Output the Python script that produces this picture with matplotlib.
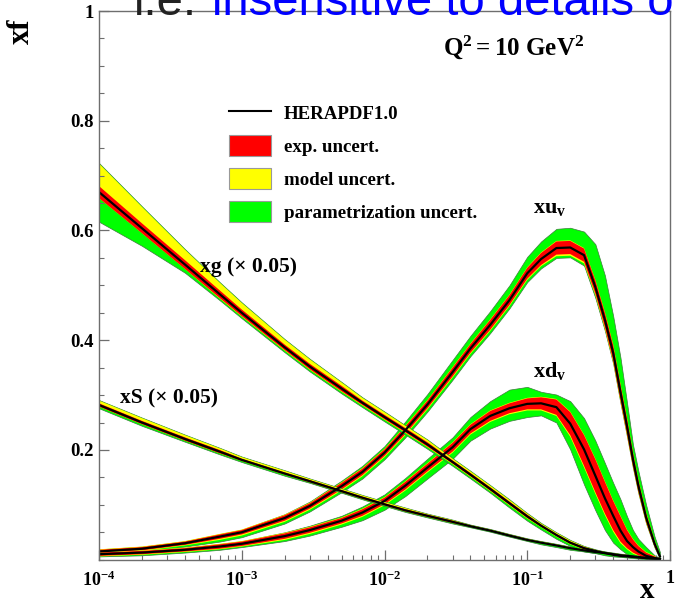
import numpy as np
import matplotlib
matplotlib.use('Agg')
import matplotlib.pyplot as plt
from matplotlib.lines import Line2D
from matplotlib.patches import Patch
from matplotlib.ticker import LogLocator, NullFormatter, MultipleLocator

# ---------------- data ----------------
x = [1e-4, 2e-4, 4e-4, 7e-4, 1e-3, 2e-3, 3e-3, 5e-3, 7e-3, 0.01, 0.014, 0.02, 0.03, 0.04,
     0.055, 0.075, 0.1, 0.125, 0.16, 0.2, 0.25, 0.3, 0.35, 0.4, 0.45, 0.5, 0.55, 0.6,
     0.68, 0.78, 0.85]

# x u_v
xuv_cen = [0.015, 0.020, 0.030, 0.042, 0.050, 0.076, 0.098, 0.134, 0.160, 0.195, 0.236,
           0.283, 0.342, 0.385, 0.428, 0.473, 0.522, 0.548, 0.568, 0.569, 0.555, 0.497,
           0.437, 0.377, 0.305, 0.243, 0.183, 0.135, 0.077, 0.029, 0.006]
xuv_exp = [0.003, 0.003, 0.003, 0.004, 0.004, 0.005, 0.005, 0.006, 0.006, 0.006, 0.007,
           0.007, 0.008, 0.008, 0.009, 0.009, 0.010, 0.011, 0.012, 0.012, 0.012, 0.012,
           0.013, 0.014, 0.014, 0.014, 0.012, 0.010, 0.008, 0.005, 0.002]
xuv_mod_up = [0.001] * 30 + [0.000]
xuv_mod_dn = [0.001, 0.001, 0.001, 0.002, 0.002, 0.002, 0.002, 0.002, 0.002, 0.002, 0.002,
              0.002, 0.002, 0.002, 0.002, 0.002, 0.002, 0.002, 0.003, 0.003, 0.003, 0.003,
              0.003, 0.003, 0.003, 0.003, 0.002, 0.002, 0.002, 0.001, 0.001]
xuv_par_up = [0.000, 0.000, 0.000, 0.000, 0.000, 0.001, 0.002, 0.003, 0.004, 0.005, 0.008,
              0.011, 0.013, 0.014, 0.015, 0.017, 0.019, 0.020, 0.022, 0.023, 0.030, 0.065,
              0.067, 0.052, 0.048, 0.028, 0.014, 0.016, 0.014, 0.007, 0.006]
xuv_par_dn = [0.002, 0.002, 0.002, 0.003, 0.003, 0.003, 0.003, 0.003, 0.004, 0.004, 0.004,
              0.004, 0.004, 0.004, 0.004, 0.004, 0.004, 0.004, 0.003, 0.003, 0.004, 0.005,
              0.004, 0.003, 0.003, 0.002, 0.002, 0.002, 0.001, 0.001, 0.001]

# x d_v
xdv_cen = [0.010, 0.013, 0.018, 0.024, 0.029, 0.043, 0.054, 0.071, 0.086, 0.107, 0.135,
           0.168, 0.205, 0.238, 0.262, 0.276, 0.284, 0.285, 0.278, 0.248, 0.201, 0.153,
           0.112, 0.080, 0.053, 0.034, 0.023, 0.015, 0.007, 0.003, 0.001]
xdv_exp_up = [0.003, 0.003, 0.003, 0.004, 0.004, 0.005, 0.005, 0.005, 0.006, 0.006, 0.007,
              0.007, 0.008, 0.008, 0.009, 0.009, 0.010, 0.011, 0.014, 0.021, 0.026, 0.030,
              0.030, 0.027, 0.026, 0.020, 0.014, 0.010, 0.006, 0.003, 0.001]
xdv_exp_dn = [0.003, 0.003, 0.003, 0.004, 0.004, 0.005, 0.005, 0.005, 0.006, 0.006, 0.007,
              0.007, 0.008, 0.008, 0.009, 0.009, 0.010, 0.011, 0.014, 0.021, 0.030, 0.030,
              0.028, 0.026, 0.020, 0.013, 0.010, 0.007, 0.004, 0.002, 0.001]
xdv_mod_up = [0.001] * 30 + [0.000]
xdv_mod_dn = [0.001, 0.001, 0.001, 0.001, 0.001, 0.002, 0.002, 0.002, 0.002, 0.002, 0.002,
              0.002, 0.002, 0.002, 0.002, 0.002, 0.002, 0.002, 0.002, 0.003, 0.003, 0.003,
              0.003, 0.003, 0.003, 0.002, 0.002, 0.001, 0.001, 0.000, 0.000]
xdv_par_up = [0.001, 0.000, 0.000, 0.000, 0.000, 0.001, 0.002, 0.003, 0.004, 0.005, 0.006,
              0.008, 0.009, 0.013, 0.017, 0.024, 0.020, 0.009, 0.008, 0.019, 0.030, 0.033,
              0.033, 0.032, 0.030, 0.024, 0.016, 0.012, 0.009, 0.001, 0.001]
xdv_par_dn = [0.000, 0.001, 0.001, 0.001, 0.001, 0.002, 0.003, 0.004, 0.006, 0.008, 0.010,
              0.011, 0.011, 0.011, 0.012, 0.012, 0.012, 0.009, 0.012, 0.023, 0.031, 0.030,
              0.027, 0.020, 0.011, 0.009, 0.005, 0.003, 0.000, 0.000, 0.000]

# x S (x 0.05)
xs_cen = [0.282, 0.250, 0.220, 0.197, 0.182, 0.157, 0.143, 0.125, 0.113, 0.101, 0.090,
          0.080, 0.069, 0.061, 0.053, 0.044, 0.036, 0.031, 0.026, 0.021, 0.017, 0.014,
          0.012, 0.010, 0.008, 0.007, 0.006, 0.005, 0.003, 0.002, 0.001]
xs_exp = [0.003, 0.003, 0.003, 0.003, 0.002, 0.002, 0.002, 0.002, 0.002, 0.002, 0.002,
          0.002, 0.002, 0.001, 0.001, 0.001, 0.001, 0.001, 0.001, 0.001, 0.001, 0.001,
          0.001, 0.001, 0.001, 0.001, 0.001, 0.001, 0.001, 0.000, 0.000]
xs_mod_up = [0.005, 0.005, 0.004, 0.003, 0.003, 0.003, 0.002, 0.002, 0.002, 0.002, 0.002,
             0.001, 0.001, 0.001, 0.001, 0.001, 0.001, 0.001, 0.001, 0.001, 0.001, 0.001,
             0.001, 0.001, 0.001, 0.001, 0.000, 0.000, 0.000, 0.000, 0.000]
xs_mod_dn = [0.000] * 31
xs_par_up = [0.001] * 26 + [0.000] * 5
xs_par_dn = [0.003, 0.003, 0.002, 0.002, 0.002, 0.002, 0.001, 0.001, 0.001, 0.001, 0.001,
             0.001, 0.001, 0.001, 0.001, 0.001, 0.001, 0.002, 0.002, 0.002, 0.001, 0.001,
             0.001, 0.001, 0.001, 0.001, 0.000, 0.000, 0.000, 0.000, 0.000]

# x g (x 0.05)
xg_cen = [0.670, 0.604, 0.538, 0.484, 0.450, 0.387, 0.352, 0.312, 0.286, 0.260, 0.236,
          0.210, 0.178, 0.155, 0.129, 0.103, 0.079, 0.062, 0.045, 0.031, 0.021, 0.016,
          0.012, 0.009, 0.007, 0.006, 0.005, 0.004, 0.003, 0.002, 0.001]
xg_exp = [0.011, 0.009, 0.008, 0.007, 0.006, 0.005, 0.005, 0.005, 0.004, 0.004, 0.004,
          0.004, 0.003, 0.003, 0.003, 0.003, 0.003, 0.002, 0.002, 0.002, 0.002, 0.001,
          0.001, 0.001, 0.001, 0.001, 0.001, 0.001, 0.001, 0.001, 0.000]
xg_mod_up = [0.041, 0.030, 0.019, 0.014, 0.012, 0.009, 0.008, 0.006, 0.005, 0.005, 0.004,
             0.004, 0.003, 0.003, 0.003, 0.003, 0.002, 0.002, 0.002, 0.002, 0.001, 0.001,
             0.001, 0.001, 0.001, 0.001, 0.000, 0.000, 0.000, 0.000, 0.000]
xg_mod_dn = [0.000, 0.000, 0.000, 0.001, 0.001, 0.001, 0.001, 0.001, 0.001, 0.001, 0.001,
             0.001, 0.001, 0.001, 0.001, 0.001, 0.001, 0.001, 0.001, 0.001, 0.001, 0.001,
             0.001, 0.000, 0.000, 0.000, 0.000, 0.000, 0.000, 0.000, 0.000]
xg_par_up = [0.001] * 26 + [0.000] * 5
xg_par_dn = [0.043, 0.023, 0.007, 0.003, 0.003, 0.003, 0.003, 0.003, 0.003, 0.003, 0.003,
             0.003, 0.003, 0.003, 0.003, 0.004, 0.004, 0.004, 0.004, 0.003, 0.003, 0.002,
             0.002, 0.002, 0.001, 0.001, 0.001, 0.001, 0.001, 0.000, 0.000]

xticks = [1e-4, 1e-3, 1e-2, 1e-1, 1]
xtick_labels = [r'$\mathbf{10^{-4}}$', r'$\mathbf{10^{-3}}$', r'$\mathbf{10^{-2}}$',
                r'$\mathbf{10^{-1}}$', r'$\mathbf{1}$']
yticks = [0.2, 0.4, 0.6, 0.8, 1.0]
ytick_labels = ['0.2', '0.4', '0.6', '0.8', '1']
legend_labels = ['HERAPDF1.0', 'exp. uncert.', 'model uncert.', 'parametrization uncert.']

# ---------------- style ----------------
plt.rcParams['font.family'] = ['Liberation Serif', 'DejaVu Serif']
plt.rcParams['font.weight'] = 'bold'
plt.rcParams['mathtext.fontset'] = 'custom'
plt.rcParams['mathtext.rm'] = 'Liberation Serif:bold'
plt.rcParams['mathtext.bf'] = 'Liberation Serif:bold'
plt.rcParams['mathtext.it'] = 'Liberation Serif:bold:italic'

RED = '#ff0000'
YEL = '#ffff00'
GRN = '#00ff00'
FRAME = '#6e6e6e'

W, H = 677, 603
fig = plt.figure(figsize=(W / 100, H / 100), dpi=100)
ax = fig.add_axes([99 / W, 1 - 559.7 / H, (670 - 99) / W, (559.7 - 11) / H])


def draw_pdf(cen, eup, edn, mup, mdn, pup, pdn):
    cen = np.asarray(cen)
    r_hi = cen + np.asarray(eup)
    r_lo = cen - np.asarray(edn)
    y_hi = r_hi + np.asarray(mup)
    y_lo = r_lo - np.asarray(mdn)
    g_hi = y_hi + np.asarray(pup)
    g_lo = y_lo - np.asarray(pdn)
    ax.fill_between(x, g_lo, g_hi, facecolor=GRN, edgecolor='#3d7a3d', linewidth=0.5)
    ax.fill_between(x, y_lo, y_hi, facecolor=YEL, edgecolor='none', linewidth=0)
    ax.fill_between(x, r_lo, r_hi, facecolor=RED, edgecolor='none', linewidth=0)
    ax.plot(x, cen, color='black', linewidth=1.6, solid_joinstyle='round')


draw_pdf(xuv_cen, xuv_exp, xuv_exp, xuv_mod_up, xuv_mod_dn, xuv_par_up, xuv_par_dn)
draw_pdf(xdv_cen, xdv_exp_up, xdv_exp_dn, xdv_mod_up, xdv_mod_dn, xdv_par_up, xdv_par_dn)
draw_pdf(xs_cen, xs_exp, xs_exp, xs_mod_up, xs_mod_dn, xs_par_up, xs_par_dn)
draw_pdf(xg_cen, xg_exp, xg_exp, xg_mod_up, xg_mod_dn, xg_par_up, xg_par_dn)

ax.set_xscale('log')
ax.set_xlim(1e-4, 1)
ax.set_ylim(0, 1)
ax.set_xticks(xticks, labels=xtick_labels)
ax.xaxis.set_minor_locator(LogLocator(base=10, subs=np.arange(2, 10)))
ax.xaxis.set_minor_formatter(NullFormatter())
ax.set_yticks(yticks, labels=ytick_labels)
ax.yaxis.set_minor_locator(MultipleLocator(0.05))

for s in ax.spines.values():
    s.set_color(FRAME)
    s.set_linewidth(1.0)
ax.tick_params(which='both', direction='in', color=FRAME, top=False, right=False)
ax.tick_params(which='major', length=7.2, width=0.9)
ax.tick_params(which='minor', length=3.8, width=0.8)
ax.tick_params(axis='x', which='major', labelsize=13, pad=7.5)
ax.tick_params(axis='y', which='major', labelsize=13.5, pad=4)
for t in ax.get_yticklabels():
    t.set_fontweight('bold')

# legend
handles = [Line2D([], [], color='black', linewidth=1.5),
           Patch(facecolor=RED, edgecolor='#999999', linewidth=0.8),
           Patch(facecolor=YEL, edgecolor='#999999', linewidth=0.8),
           Patch(facecolor=GRN, edgecolor='#999999', linewidth=0.8)]
ax.legend(handles, legend_labels, loc='upper left',
          bbox_to_anchor=(229 / W, 1 - 102.5 / H), bbox_transform=fig.transFigure,
          frameon=False, borderpad=0, borderaxespad=0,
          handlelength=2.2, handleheight=1.3, labelspacing=0.65, handletextpad=0.7,
          prop={'family': 'Liberation Serif', 'weight': 'bold', 'size': 13.6})


def ftext(px, py, s, **kw):
    fig.text(px / W, 1 - py / H, s, **kw)


ftext(443, 55, r'$\mathbf{Q^2 = 10\ GeV^2}$', fontsize=18, va='baseline', ha='left')
ftext(200, 272, 'xg (× 0.05)', fontsize=15.5, fontweight='bold', va='baseline', ha='left')
ftext(120, 403, 'xS (× 0.05)', fontsize=15.5, fontweight='bold', va='baseline', ha='left')
ftext(533, 213, r'$\mathbf{xu_v}$', fontsize=16, va='baseline', ha='left')
ftext(533, 377, r'$\mathbf{xd_v}$', fontsize=16, va='baseline', ha='left')
ftext(21, 31, 'xf', fontsize=22, fontweight='bold', rotation=90, ha='center', va='center')
ftext(647, 598, 'x', fontsize=21, fontweight='bold', ha='center', va='baseline')

# overlay text from the slide
ftext(134, 15, 'i.e.', fontsize=34, color='#222222', family='Liberation Sans',
      fontweight='normal', va='baseline', ha='left', zorder=10)
ftext(212, 15, 'insensitive to details o', fontsize=34, color='#0000ff',
      family='Liberation Sans', fontweight='normal', va='baseline', ha='left', zorder=10)

fig.savefig('out.png', dpi=100)
